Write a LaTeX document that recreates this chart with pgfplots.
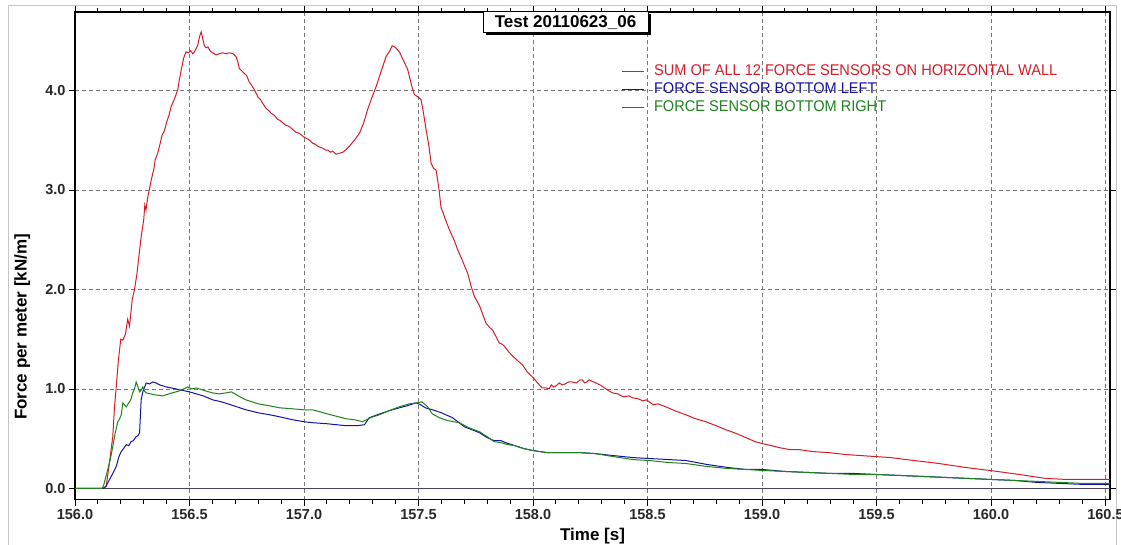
\documentclass[border=0pt]{standalone}
\usepackage{fontspec}
\setmainfont{Liberation Sans}
\usepackage{graphicx}
\usepackage{pgfplots}
\pgfplotsset{compat=1.18}
\usetikzlibrary{shadows}

\definecolor{cred}{RGB}{214,28,40}
\definecolor{cblue}{RGB}{20,20,160}
\definecolor{cgreen}{RGB}{30,130,30}
\definecolor{gridgray}{RGB}{120,120,120}
\definecolor{zeroline}{RGB}{70,70,100}
\definecolor{ticktext}{RGB}{40,40,40}

\begin{document}
\begin{tikzpicture}
\path[use as bounding box] (0pt,0pt) rectangle (1121pt,544pt);
\draw[gray!45, line width=1pt] (8pt,-20pt) -- (8pt,538pt) -- (1116pt,538pt) -- (1116pt,-20pt);
\begin{axis}[
  at={(75pt,44.5pt)}, anchor=south west,
  scale only axis, width=1035pt, height=487.5pt,
  xmin=156, xmax=160.52, ymin=-0.112, ymax=4.79,
  xtick={156,156.5,157,157.5,158,158.5,159,159.5,160,160.5},
  minor x tick num=4,
  ytick={0,1,2,3,4},
  tick align=outside,
  major tick length=6pt, minor tick length=4pt,
  tick style={black, line width=0.8pt},
  /pgf/number format/assume math mode=true,
  xticklabel={\pgfmathprintnumber[fixed,fixed zerofill,precision=1]{\tick}},
  yticklabel={\pgfmathprintnumber[fixed,fixed zerofill,precision=1]{\tick}},
  xticklabel style={font=\bfseries\fontsize{14.5}{15}\selectfont, text=ticktext},
  yticklabel style={font=\bfseries\fontsize{14.5}{15}\selectfont, text=ticktext},
  grid=major,
  major grid style={gridgray, line width=0.8pt, dash pattern=on 4pt off 3pt},
  axis line style={black, line width=1.6pt},
  xlabel={Time [s]}, ylabel={Force per meter [kN/m]},
  label style={font=\bfseries\fontsize{17}{18}\selectfont},
  xlabel style={at={(axis description cs:0.5,-0.075)}, anchor=center},
  ylabel style={at={(axis description cs:-0.051,0.354)}, anchor=center},
  legend style={at={(axis description cs:0.525,0.9)}, anchor=north west, draw=none, fill=none,
    font=\fontsize{15.5}{17}\selectfont, row sep=0pt,
    nodes={inner sep=1.5pt, text height=11pt, text depth=4pt},
    /tikz/every odd column/.append style={column sep=8pt}},
  legend cell align=left,
  legend image code/.code={\draw[#1, line width=1pt] (0pt,0pt) -- (22pt,0pt);},
]
\addplot[zeroline, line width=1pt, forget plot] coordinates {(156,0) (160.52,0)};

\addplot[cred, line width=1pt] coordinates {
(156.000,0) (156.120,0) (156.136,0.02) (156.150,0.25) (156.165,0.52) (156.172,0.80)
(156.180,1.02) (156.190,1.30) (156.200,1.50) (156.209,1.49) (156.220,1.55) (156.230,1.70)
(156.238,1.63) (156.250,1.90) (156.260,2.00) (156.270,2.15) (156.280,2.35) (156.289,2.53)
(156.300,2.70) (156.305,2.85) (156.310,2.80) (156.318,2.93) (156.333,3.10) (156.345,3.22)
(156.350,3.30) (156.361,3.37) (156.370,3.45) (156.380,3.55) (156.391,3.60) (156.400,3.68)
(156.410,3.75) (156.420,3.84) (156.435,3.92) (156.449,4.01) (156.455,4.10) (156.464,4.21)
(156.475,4.33) (156.485,4.39) (156.495,4.38) (156.505,4.40) (156.515,4.37) (156.522,4.39)
(156.535,4.45) (156.545,4.55) (156.551,4.59) (156.558,4.52) (156.565,4.45) (156.573,4.43)
(156.580,4.44) (156.590,4.40) (156.600,4.38) (156.616,4.36) (156.630,4.37) (156.645,4.38)
(156.660,4.37) (156.674,4.38) (156.690,4.37) (156.704,4.34) (156.712,4.28) (156.718,4.22)
(156.728,4.20) (156.740,4.17) (156.750,4.15) (156.760,4.09) (156.772,4.05) (156.783,4.01)
(156.800,3.93) (156.810,3.91) (156.820,3.87) (156.835,3.82) (156.845,3.80) (156.858,3.77)
(156.871,3.75) (156.885,3.71) (156.895,3.70) (156.910,3.67) (156.922,3.65) (156.935,3.64)
(156.950,3.61) (156.965,3.58) (156.980,3.57) (156.995,3.54) (157.010,3.52) (157.025,3.50)
(157.038,3.47) (157.050,3.46) (157.060,3.44) (157.070,3.43) (157.082,3.42) (157.095,3.40)
(157.105,3.40) (157.115,3.38) (157.125,3.39) (157.140,3.36) (157.155,3.37) (157.170,3.38)
(157.185,3.41) (157.198,3.44) (157.220,3.50) (157.242,3.57) (157.260,3.67) (157.278,3.81)
(157.295,3.92) (157.315,4.04) (157.335,4.18) (157.358,4.34) (157.375,4.40) (157.385,4.45)
(157.395,4.44) (157.405,4.42) (157.416,4.39) (157.435,4.30) (157.453,4.21) (157.470,4.05)
(157.482,3.96) (157.495,3.94) (157.511,3.91) (157.520,3.80) (157.533,3.61) (157.545,3.45)
(157.555,3.27) (157.565,3.22) (157.577,3.20) (157.590,3.00) (157.598,2.83) (157.615,2.72)
(157.635,2.60) (157.655,2.50) (157.671,2.40) (157.690,2.30) (157.715,2.16) (157.730,2.03)
(157.744,1.93) (157.766,1.84) (157.795,1.66) (157.810,1.62) (157.824,1.59) (157.840,1.52)
(157.853,1.46) (157.865,1.45) (157.875,1.43) (157.895,1.37) (157.911,1.33) (157.935,1.28)
(157.955,1.24) (157.975,1.17) (157.998,1.12) (158.020,1.06) (158.040,1.01) (158.057,1.01)
(158.070,1.00) (158.080,1.04) (158.090,1.02) (158.100,1.03) (158.115,1.06) (158.128,1.04)
(158.140,1.05) (158.155,1.07) (158.170,1.07) (158.190,1.06) (158.205,1.09) (158.216,1.09)
(158.225,1.06) (158.235,1.07) (158.245,1.09) (158.255,1.08) (158.275,1.06) (158.300,1.03)
(158.325,0.99) (158.347,0.96) (158.370,0.95) (158.395,0.92) (158.420,0.93) (158.435,0.91)
(158.460,0.90) (158.480,0.88) (158.495,0.89) (158.508,0.87) (158.525,0.84) (158.545,0.85)
(158.580,0.82) (158.620,0.78) (158.668,0.74) (158.710,0.70) (158.755,0.67) (158.800,0.63)
(158.842,0.59) (158.890,0.55) (158.930,0.51) (158.970,0.47) (159.002,0.45) (159.040,0.43)
(159.075,0.41) (159.120,0.39) (159.162,0.39) (159.220,0.37) (159.290,0.36) (159.366,0.34)
(159.430,0.33) (159.494,0.32) (159.560,0.31) (159.628,0.29) (159.700,0.27) (159.773,0.25)
(159.830,0.23) (159.890,0.21) (159.995,0.18) (160.060,0.16) (160.123,0.14) (160.180,0.12)
(160.239,0.10) (160.326,0.09) (160.420,0.09) (160.520,0.09)
};

\addplot[cblue, line width=1pt] coordinates {
(156.000,0) (156.125,0) (156.135,0.02) (156.151,0.09) (156.165,0.15) (156.180,0.22)
(156.192,0.32) (156.202,0.37) (156.212,0.40) (156.224,0.44) (156.235,0.43) (156.245,0.47)
(156.255,0.48) (156.267,0.52) (156.275,0.53) (156.282,0.56) (156.286,0.75) (156.289,0.89)
(156.296,0.97) (156.311,1.06) (156.325,1.05) (156.340,1.07) (156.354,1.06) (156.370,1.04)
(156.385,1.03) (156.398,1.02) (156.420,1.01) (156.440,1.00) (156.456,0.99) (156.480,0.98)
(156.500,0.97) (156.530,0.95) (156.560,0.93) (156.601,0.89) (156.640,0.87) (156.680,0.84)
(156.720,0.81) (156.747,0.79) (156.800,0.76) (156.850,0.74) (156.893,0.72) (156.950,0.69)
(157.000,0.67) (157.038,0.66) (157.100,0.65) (157.184,0.63) (157.230,0.63) (157.264,0.64)
(157.285,0.71) (157.320,0.74) (157.358,0.77) (157.400,0.80) (157.450,0.83) (157.489,0.86)
(157.510,0.84) (157.530,0.81) (157.562,0.79) (157.600,0.76) (157.649,0.71) (157.700,0.62)
(157.766,0.56) (157.800,0.51) (157.830,0.48) (157.860,0.48) (157.880,0.46) (157.920,0.43)
(157.960,0.40) (158.000,0.38) (158.060,0.36) (158.130,0.36) (158.200,0.36) (158.270,0.35)
(158.350,0.33) (158.435,0.31) (158.508,0.30) (158.590,0.29) (158.668,0.28) (158.760,0.24)
(158.850,0.21) (158.930,0.19) (159.002,0.19) (159.100,0.17) (159.200,0.16) (159.300,0.15)
(159.400,0.15) (159.494,0.14) (159.600,0.13) (159.700,0.12) (159.800,0.11) (159.900,0.10)
(159.995,0.09) (160.100,0.08) (160.200,0.06) (160.300,0.05) (160.400,0.04) (160.520,0.04)
};

\addplot[cgreen, line width=1pt] coordinates {
(156.000,0) (156.118,0) (156.125,0.03) (156.143,0.19) (156.155,0.30) (156.165,0.42)
(156.175,0.55) (156.187,0.67) (156.195,0.70) (156.202,0.74) (156.209,0.86) (156.216,0.84)
(156.224,0.82) (156.238,0.87) (156.245,0.90) (156.252,0.96) (156.260,1.00) (156.267,1.07)
(156.275,1.02) (156.282,0.97) (156.290,0.99) (156.296,1.02) (156.303,0.98) (156.311,0.96)
(156.330,0.95) (156.350,0.94) (156.383,0.93) (156.410,0.95) (156.440,0.97) (156.456,0.98)
(156.475,1.00) (156.492,1.02) (156.510,1.00) (156.530,1.01) (156.543,1.00) (156.570,0.98)
(156.601,0.96) (156.630,0.95) (156.660,0.96) (156.682,0.97) (156.700,0.95) (156.720,0.92)
(156.747,0.89) (156.800,0.85) (156.850,0.83) (156.893,0.81) (156.950,0.80) (157.000,0.79)
(157.038,0.79) (157.100,0.75) (157.150,0.72) (157.184,0.70) (157.220,0.69) (157.256,0.67)
(157.290,0.71) (157.329,0.74) (157.370,0.78) (157.416,0.82) (157.460,0.85) (157.496,0.86)
(157.515,0.87) (157.540,0.82) (157.560,0.75) (157.591,0.71) (157.630,0.68) (157.678,0.66)
(157.720,0.61) (157.766,0.57) (157.800,0.52) (157.830,0.47) (157.860,0.46) (157.890,0.44)
(157.920,0.43) (157.960,0.40) (158.000,0.38) (158.060,0.36) (158.130,0.36) (158.200,0.36)
(158.270,0.35) (158.350,0.32) (158.435,0.29) (158.508,0.28) (158.590,0.26) (158.668,0.25)
(158.760,0.22) (158.850,0.20) (158.930,0.19) (159.002,0.18) (159.100,0.17) (159.200,0.16)
(159.300,0.15) (159.400,0.14) (159.494,0.14) (159.600,0.13) (159.700,0.12) (159.800,0.11)
(159.900,0.10) (159.995,0.09) (160.100,0.08) (160.200,0.07) (160.300,0.06) (160.400,0.05)
(160.520,0.05)
};

\legend{\textcolor{cred}{\scalebox{0.94}[1]{SUM OF ALL 12 FORCE SENSORS ON HORIZONTAL WALL}},
        \textcolor{cblue}{\scalebox{0.94}[1]{FORCE SENSOR BOTTOM LEFT}},
        \textcolor{cgreen}{\scalebox{0.94}[1]{FORCE SENSOR BOTTOM RIGHT}}}
\end{axis}
\node[draw=black, line width=1pt, fill=white,
      drop shadow={shadow xshift=2.5pt, shadow yshift=-2.5pt, opacity=1, fill=black},
      font=\bfseries\fontsize{17}{18}\selectfont,
      minimum width=165pt, minimum height=21pt, inner sep=0pt]
  at (565.5pt,521.5pt) {Test 20110623\_06};
\end{tikzpicture}
\end{document}
